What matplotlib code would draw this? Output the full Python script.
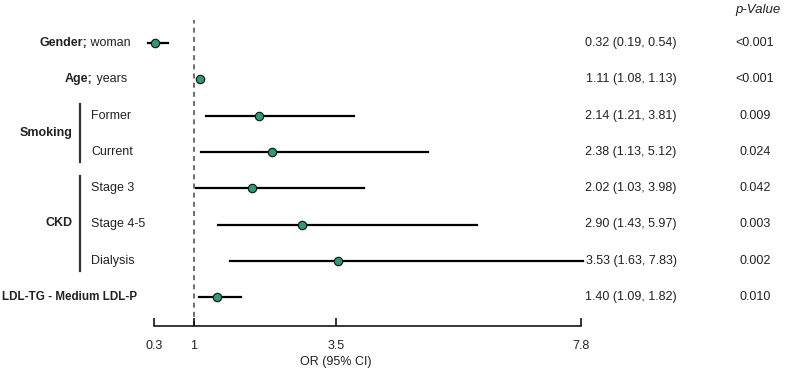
import matplotlib
matplotlib.use("Agg")
import matplotlib.pyplot as plt

plt.rcParams['font.family'] = ['Liberation Sans', 'DejaVu Sans']

# ---- data ----
bold_parts = ["Gender;", "Age;", "", "", "", "", "", "LDL-TG - Medium LDL-P"]
normal_parts = [" woman", " years", "Former", "Current", "Stage 3", "Stage 4-5", "Dialysis", ""]
or_vals = [0.32, 1.11, 2.14, 2.38, 2.02, 2.90, 3.53, 1.40]
ci_low = [0.19, 1.08, 1.21, 1.13, 1.03, 1.43, 1.63, 1.09]
ci_high = [0.54, 1.13, 3.81, 5.12, 3.98, 5.97, 7.83, 1.82]
p_values = ["<0.001", "<0.001", "0.009", "0.024", "0.042", "0.003", "0.002", "0.010"]
groups = [("Smoking", 2, 3), ("CKD", 4, 6)]
x_ticks = [0.3, 1, 3.5, 7.8]
x_tick_labels = ["0.3", "1", "3.5", "7.8"]

W, H = 785, 371
fig = plt.figure(figsize=(W / 100, H / 100), dpi=100)

def fx(px):
    return px / W

def fy(py):
    return 1 - py / H

ax_left, ax_right, ax_top, ax_bot = 154, 581, 20, 326
ax = fig.add_axes([fx(ax_left), fy(ax_bot), fx(ax_right - ax_left), (ax_bot - ax_top) / H])
row0, dy = 43, 36.3
ax.set_xlim(0.3, 7.8)
ax.set_ylim((ax_bot - row0) / dy, (ax_top - row0) / dy)

green = '#2a9d78'
txt_color = '#222222'
n = len(or_vals)
for i in range(n):
    ax.plot([ci_low[i], ci_high[i]], [i, i], color='black', lw=1.6, clip_on=False, zorder=2)
    ax.plot(or_vals[i], i, 'o', ms=6, mfc=green, mec='#1a1a1a', mew=0.9, clip_on=False, zorder=3)

ax.axvline(1, color='#555555', ls=(0, (3, 2.5)), lw=1.2, zorder=1)

for s in ['top', 'right', 'left']:
    ax.spines[s].set_visible(False)
ax.spines['bottom'].set_linewidth(1.1)
ax.spines['bottom'].set_bounds(0.3, 7.8)
ax.set_yticks([])
ax.set_xticks(x_ticks)
ax.set_xticklabels(x_tick_labels, fontsize=9, color=txt_color)
ax.tick_params(axis='x', direction='in', length=6, width=1.1, pad=10)
ax.set_facecolor('none')

fig.text(fx(336), fy(362), "OR (95% CI)", ha='center', va='center', fontsize=9, color=txt_color)
fig.text(fx(758), fy(10), "p-Value", ha='center', va='center', fontsize=9.5, style='italic', color=txt_color)

fig.canvas.draw()
renderer = fig.canvas.get_renderer()

label_right = {0: 131, 1: 127, 7: 137}
for i in range(n):
    yy = fy(row0 + dy * i)
    if i in label_right:
        xr = fx(label_right[i])
        if normal_parts[i]:
            t = fig.text(xr, yy, normal_parts[i], ha='right', va='center', fontsize=9, color=txt_color)
            bb = t.get_window_extent(renderer)
            fig.text(bb.x0 / W, yy, bold_parts[i], ha='right', va='center', fontsize=9,
                     fontweight='bold', color=txt_color)
        else:
            t = fig.text(fx(2), yy, bold_parts[i], ha='left', va='center', fontsize=9,
                         fontweight='bold', color=txt_color)
            bb = t.get_window_extent(renderer)
            avail = label_right[i] - 2
            if bb.width > avail:
                t.set_fontsize(9 * avail / bb.width)
    else:
        fig.text(fx(91), yy, normal_parts[i], ha='left', va='center', fontsize=9, color=txt_color)
    fig.text(fx(631), yy, f"{or_vals[i]:.2f} ({ci_low[i]:.2f}, {ci_high[i]:.2f})",
             ha='center', va='center', fontsize=9, color=txt_color)
    fig.text(fx(755), yy, p_values[i], ha='center', va='center', fontsize=9, color=txt_color)

for name, a, b in groups:
    ytop = row0 + dy * a - 12
    ybot = row0 + dy * b + 10
    fig.add_artist(plt.Line2D([fx(80), fx(80)], [fy(ytop), fy(ybot)], color='#333333', lw=1.6))
    fig.text(fx(73), fy((ytop + ybot) / 2), name, ha='right', va='center', fontsize=9,
             fontweight='bold', color=txt_color)

fig.savefig("out.png", dpi=100)
